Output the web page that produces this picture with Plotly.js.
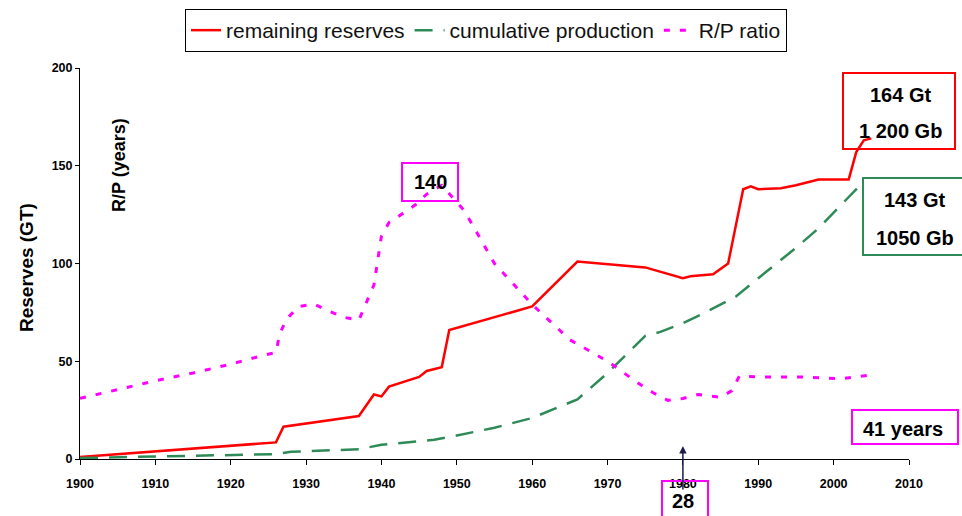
<!DOCTYPE html>
<html>
<head>
<meta charset="utf-8">
<script src="https://cdn.plot.ly/plotly-3.0.1.min.js"></script>
<style>html,body{margin:0;padding:0;background:#fff;}#chart{width:962px;height:516px;}</style>
</head>
<body>
<div id="chart"></div>
<script>
// remaining reserves (Gt)
const reservesYears = [1900, 1926, 1927, 1937, 1939, 1940, 1941, 1945, 1946, 1948, 1949, 1960, 1966, 1975, 1980, 1981, 1984, 1986, 1988, 1989, 1990, 1993, 1995, 1998, 2002, 2003, 2004, 2005];
const reservesVals  = [1, 8.5, 16.5, 22, 33, 32, 37, 42, 45, 47, 66, 78, 101, 98, 92.5, 93.5, 94.5, 100, 138, 139.5, 138, 138.5, 140, 143, 143, 157, 163, 164];

// cumulative production (Gt)
const prodYears = [1900, 1910, 1920, 1925, 1926, 1928, 1937, 1940, 1947, 1950, 1955, 1960, 1966, 1970, 1975, 1977, 1980, 1983, 1985, 1987, 1990, 1995, 1998, 2002, 2004];
const prodVals  = [0.5, 1.2, 1.8, 2.3, 2.5, 3.7, 5, 7.3, 9.8, 12, 16, 21, 30.5, 44, 63, 65, 69.5, 75, 79, 83, 92.5, 108, 118, 134, 142];

// R/P ratio (years)
const rpYears = [1900, 1905, 1910, 1915, 1920, 1924, 1926, 1926.5, 1927.4, 1929, 1931, 1933, 1935, 1937, 1938, 1939, 1940, 1941, 1943, 1944.5, 1946, 1948, 1949.5, 1951, 1955, 1960, 1965, 1970, 1974, 1976, 1978, 1980, 1982, 1985, 1986.5, 1987.5, 1990, 1996, 2001, 2003, 2005];
const rpVals  = [31, 35.5, 40, 44, 48.5, 52.7, 54.5, 64, 71.5, 78, 79.3, 75.7, 72.5, 71, 80, 89, 114, 121, 126, 130, 135.5, 140, 133.5, 127, 100, 79, 61, 50, 39, 34, 30, 31, 33, 31.5, 35, 42.5, 42, 42, 41, 42, 43];

const seriesNames = ['remaining reserves', 'cumulative production', 'R/P ratio'];
const xTickVals = [1900, 1910, 1920, 1930, 1940, 1950, 1960, 1970, 1980, 1990, 2000, 2010];
const yTickVals = [0, 50, 100, 150, 200];

const FONT = 'Liberation Sans, Arial, sans-serif';
const RED = '#ff0000', GREEN = '#2e8b57', MAG = '#ff00ff';

// pixel helpers for paper coordinates (plot area 80..909 x, 68..459 y)
const L = 80, R = 53, T = 68, B = 57, W = 962, H = 516;
const pw = W - L - R, ph = H - T - B;
const px = v => (v - L) / pw;
const py = v => (H - B - v) / ph;

const traces = [
  {x: reservesYears, y: reservesVals, name: seriesNames[0], mode: 'lines',
   line: {color: RED, width: 2.5}},
  {x: prodYears, y: prodVals, name: seriesNames[1], mode: 'lines',
   line: {color: GREEN, width: 2.5, dash: '18px,11px'}},
  {x: rpYears, y: rpVals, name: seriesNames[2], mode: 'lines',
   line: {color: MAG, width: 3, dash: '6px,10px'}}
];

function box(x0, y0, x1, y1, color) {
  return {type: 'rect', xref: 'paper', yref: 'paper',
          x0: px(x0), x1: px(x1), y0: py(y1), y1: py(y0),
          line: {color: color, width: 2}, fillcolor: 'rgba(0,0,0,0)'};
}
function label(text, x, y, size) {
  return {xref: 'paper', yref: 'paper', x: px(x), y: py(y), text: '<b>' + text + '</b>',
          showarrow: false, xanchor: 'center', yanchor: 'middle',
          font: {family: FONT, size: size || 20, color: '#000'}};
}

const layout = {
  width: W, height: H,
  margin: {l: L, r: R, t: T, b: B, pad: 0, autoexpand: false},
  paper_bgcolor: '#fff', plot_bgcolor: '#fff',
  font: {family: FONT, color: '#000'},
  showlegend: true,
  legend: {orientation: 'h', x: px(185), y: py(9), xanchor: 'left', yanchor: 'top',
           bordercolor: '#000', borderwidth: 1, bgcolor: '#fff',
           font: {family: FONT, size: 21, color: '#111'}, itemwidth: 30, tracegroupgap: 0},
  xaxis: {range: [1900, 2010], tickvals: xTickVals, ticks: 'outside', ticklen: 5, tickcolor: '#000',
          showline: true, linecolor: '#000', linewidth: 1, showgrid: false, zeroline: false,
          ticklabelstandoff: 8,
          tickfont: {family: FONT, size: 12.5, weight: 'bold', color: '#000'}},
  yaxis: {range: [0, 200], tickvals: yTickVals, ticks: 'outside', ticklen: 4, tickcolor: '#000',
          showline: true, linecolor: '#000', linewidth: 1, showgrid: false, zeroline: false,
          tickfont: {family: FONT, size: 12.5, weight: 'bold', color: '#000'}},
  shapes: [
    box(843, 73, 955, 149, RED),
    box(863, 178, 966, 255, GREEN),
    box(852, 410, 958, 444, MAG),
    box(402, 163, 458, 201, MAG),
    box(662, 481, 708, 524, MAG)
  ],
  annotations: [
    {xref: 'paper', yref: 'paper', x: px(26), y: py(268), text: '<b>Reserves (GT)</b>', textangle: -90,
     showarrow: false, xanchor: 'center', yanchor: 'middle', font: {family: FONT, size: 19, color: '#000'}},
    {xref: 'paper', yref: 'paper', x: px(119), y: py(165), text: '<b>R/P (years)</b>', textangle: -90,
     showarrow: false, xanchor: 'center', yanchor: 'middle', font: {family: FONT, size: 18, color: '#000'}},
    label('164 Gt', 900, 95),
    label('1 200 Gb', 900, 131),
    label('143 Gt', 915, 200),
    label('1050 Gb', 915, 238),
    label('41 years', 903, 429),
    label('140', 430, 182),
    {xref: 'x', yref: 'paper', x: 1980, y: py(446), text: '<b>28</b>', showarrow: true,
     axref: 'pixel', ayref: 'pixel', ax: 0, ay: 55, height: 20, width: 30,
     arrowcolor: '#1c1c4c', arrowwidth: 1.5, arrowhead: 2, arrowsize: 1,
     font: {family: FONT, size: 20, color: '#000'}}
  ]
};

Plotly.newPlot('chart', traces, layout, {displayModeBar: false, staticPlot: true});
</script>
</body>
</html>
